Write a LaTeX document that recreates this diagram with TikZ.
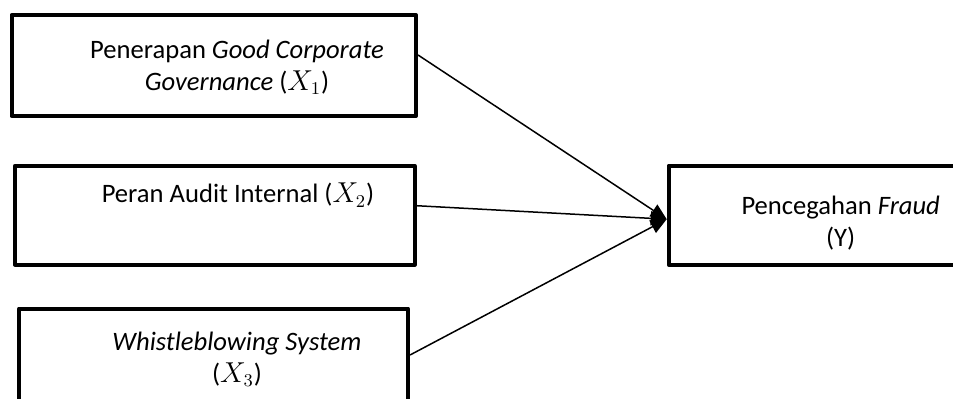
\documentclass[tikz,border=0pt]{standalone}
\usepackage{fontspec}
\setmainfont{Carlito}
\usepackage{tikz}
\usetikzlibrary{arrows.meta}
\usetikzlibrary{positioning}
\tikzset{
    varbox/.style = {draw,line width=2pt,line join=round,inner sep=0,minimum height=49.5pt},
    vartext/.style = {align=center,inner sep=0,font=\fontsize{13.3}{16}\selectfont},
    infl/.style = {line width=0.75pt,-{Triangle[length=8pt,width=7pt]}}
}

\begin{document}
\begin{tikzpicture}
    \clip (0,0) rectangle (476.5pt,-199pt);
    % Variable boxes
    \node[varbox,minimum width=202.25pt,minimum height=50.5pt] (x1) at (106.9pt,-32.75pt) {};
    \node[varbox,minimum width=199.75pt] (x2) at (107.4pt,-107.6pt) {};
    \node[varbox,minimum width=194.5pt,minimum height=50pt] (x3) at (106.75pt,-179.25pt) {};
    \node[varbox,minimum width=170pt] (y) at (419.35pt,-107.6pt) {};
    % Texts
    \node[vartext] (t1) at ([xshift=11.6pt,yshift=-1pt]x1.center)
        {Penerapan \textit{Good Corporate}\\ \textit{Governance} ($X_1$)};
    \node[vartext] (t2) at ([xshift=11.6pt,yshift=10.1pt]x2.center)
        {Peran Audit Internal ($X_2$)};
    \node[vartext] (t3) at ([xshift=11.75pt,yshift=-0.5pt]x3.center)
        {\textit{Whistleblowing System}\\ ($X_3$)};
    \node[vartext] (ty) at ([xshift=1pt,yshift=-4.15pt]y.center)
        {Pencegahan \textit{Fraud}\\ (Y)};
    % Influence
    \coordinate (tip) at ([yshift=-2pt]y.west);
    \foreach \src/\dy in {x1/5.25,x2/4.75,x3/1.75}
        \draw[infl] ([yshift=\dy pt]\src.east) -- (tip);
\end{tikzpicture}
\end{document}
